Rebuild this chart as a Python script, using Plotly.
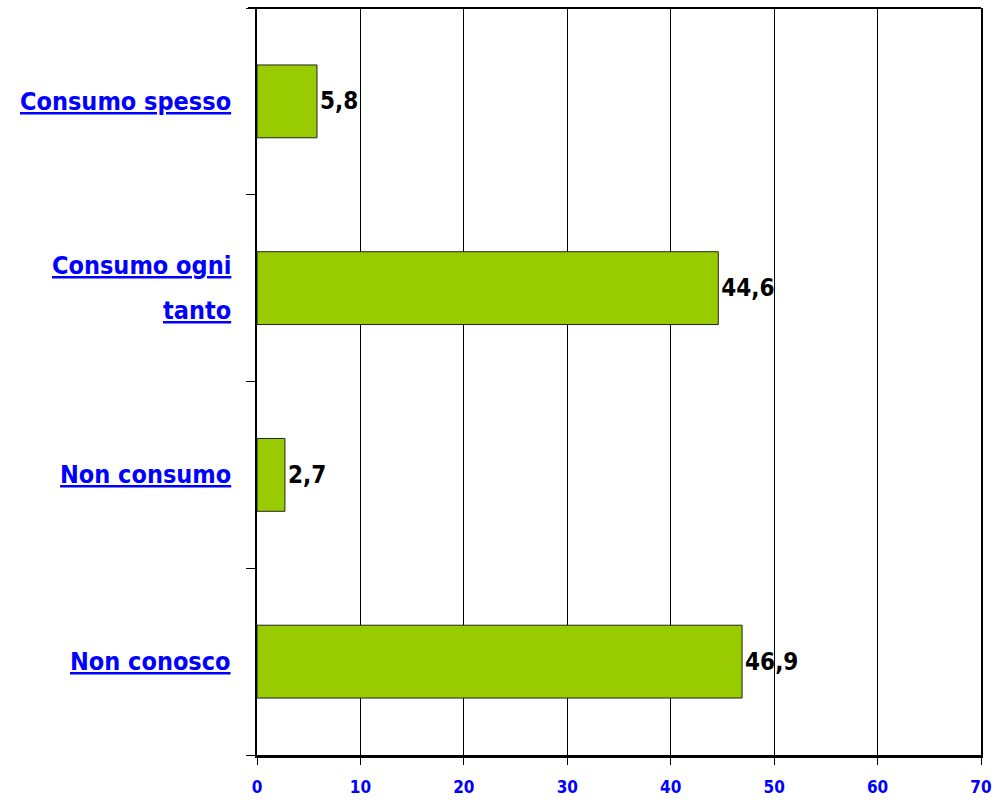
import plotly.graph_objects as go

categories = ["Consumo spesso", "Consumo ogni<br>tanto", "Non consumo", "Non conosco"]
values = [5.8, 44.6, 2.7, 46.9]
x_ticks = [0, 10, 20, 30, 40, 50, 60, 70]

FONT = "DejaVu Sans Condensed"
BLUE = "#0000FF"

fig = go.Figure()
fig.add_trace(go.Bar(
    y=list(range(len(categories))),
    x=values,
    orientation="h",
    marker=dict(color="#99CC00", line=dict(color="#222222", width=1)),
    text=[f"{v:.1f}".replace(".", ",") for v in values],
    textposition="outside",
    textfont=dict(family=FONT, size=24, color="black", weight="bold"),
    cliponaxis=False,
    width=0.39,
))

for i, lab in enumerate(categories):
    lines = lab.split("<br>")
    n = len(lines)
    for j, ln in enumerate(lines):
        off = (j - (n - 1) / 2) * 45
        fig.add_annotation(
            x=0, xref="paper", y=i, yref="y",
            text=ln, showarrow=False, xanchor="right", yanchor="middle",
            xshift=-24, yshift=-off,
            font=dict(family=FONT, size=25, color=BLUE, weight="bold", lineposition="under"),
        )

fig.add_shape(type="line", xref="paper", yref="paper", x0=-0.0125, x1=1, y0=1, y1=1,
              line=dict(color="black", width=2))

fig.update_layout(
    width=1008, height=802,
    margin=dict(l=257, r=27, t=8, b=47),
    paper_bgcolor="white", plot_bgcolor="white",
    showlegend=False,
    xaxis=dict(
        range=[0, 70], tickvals=x_ticks, ticktext=[str(t) for t in x_ticks],
        showgrid=True, gridcolor="black", gridwidth=1,
        showline=True, linecolor="black", linewidth=3,
        ticks="outside", ticklen=7, tickcolor="black", tickwidth=1,
        tickfont=dict(family=FONT, size=17, color=BLUE, weight="bold"),
        ticklabelstandoff=8, automargin=False,
        zeroline=False,
    ),
    yaxis=dict(
        range=[3.5, -0.5], tickvals=[-0.5, 0.5, 1.5, 2.5, 3.5],
        showticklabels=False, showgrid=False, zeroline=False,
        showline=True, linecolor="black", linewidth=2, mirror=True,
        ticks="outside", ticklen=9, tickcolor="black", tickwidth=1,
        automargin=False,
    ),
)

fig.write_html("out.html")
